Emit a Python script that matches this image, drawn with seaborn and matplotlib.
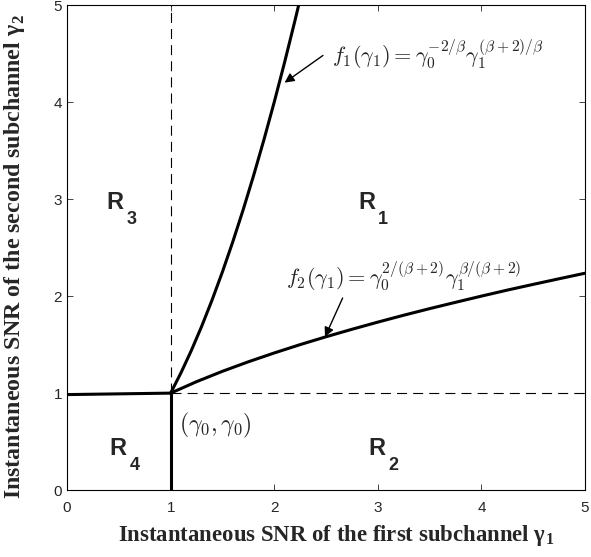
import matplotlib
matplotlib.use("Agg")
import matplotlib.pyplot as plt
import seaborn as sns
import pandas as pd

# Boundary curves
f1_x = [1.0, 1.1, 1.2, 1.3, 1.4, 1.5, 1.6, 1.7, 1.8, 1.9, 2.0, 2.1, 2.2, 2.236]
f1_y = [1.0, 1.21, 1.44, 1.69, 1.96, 2.25, 2.56, 2.89, 3.24, 3.61, 4.0, 4.41, 4.84, 5.0]
f2_x = [1.0, 1.25, 1.5, 1.75, 2.0, 2.25, 2.5, 2.75, 3.0, 3.25, 3.5, 3.75, 4.0,
        4.25, 4.5, 4.75, 5.0]
f2_y = [1.0, 1.118, 1.225, 1.323, 1.414, 1.5, 1.581, 1.658, 1.732, 1.803, 1.871,
        1.936, 2.0, 2.062, 2.121, 2.179, 2.236]
left_x = [0.0, 1.0]
left_y = [0.985, 1.0]
vert_x = [1.0, 1.0]
vert_y = [0.0, 1.0]
dash_v_x = [1.0, 1.0]
dash_v_y = [1.0, 5.0]
dash_h_x = [1.0, 5.0]
dash_h_y = [1.0, 1.0]
ticks = [0, 1, 2, 3, 4, 5]
region_names = ["R", "R", "R", "R"]
region_subs = ["3", "1", "4", "2"]
region_x = [0.46, 2.89, 0.49, 2.99]
region_y = [2.96, 2.96, 0.43, 0.43]

sns.set_style("white")
plt.rcParams["mathtext.fontset"] = "cm"
plt.rcParams["font.family"] = ["Liberation Sans", "DejaVu Sans"]

fig = plt.figure(figsize=(5.91, 5.57), dpi=100)
ax = fig.add_axes([0.1134, 0.120, 0.8766, 0.871])

def seg(x, y, **kw):
    sns.lineplot(data=pd.DataFrame({"x": x, "y": y}), x="x", y="y", ax=ax,
                 sort=False, estimator=None, legend=False, **kw)

seg(f1_x, f1_y, color="black", linewidth=2.2)
seg(f2_x, f2_y, color="black", linewidth=2.2)
seg(left_x, left_y, color="black", linewidth=2.2)
seg(vert_x, vert_y, color="black", linewidth=2.2)
seg(dash_v_x, dash_v_y, color="black", linewidth=0.8, linestyle=(0, (9, 5.5)))
seg(dash_h_x, dash_h_y, color="black", linewidth=0.8, linestyle=(0, (9, 5.5)))

ax.set_xlim(0, 5)
ax.set_ylim(0, 5)
ax.set_xticks(ticks)
ax.set_yticks(ticks)
ax.tick_params(direction="in", length=4, width=0.6, labelsize=11,
               top=True, right=True, bottom=True, left=True)
ax.tick_params(axis="x", pad=8)
for s in ax.spines.values():
    s.set_linewidth(0.8)
    s.set_color("black")

for name, sub, x, y in zip(region_names, region_subs, region_x, region_y):
    ax.text(x, y, name, fontsize=17, fontweight="bold", ha="center", va="center")
    ax.annotate(sub, xy=(x, y), xytext=(12, -12), textcoords="offset points",
                fontsize=13, fontweight="bold", ha="center", va="center")

arrow = dict(arrowstyle="-|>", color="black", lw=1.0, mutation_scale=14,
             shrinkA=0, shrinkB=0)
ax.text(2.56, 4.40, r"$f_1(\gamma_1) = \gamma_0^{-2/\beta}\gamma_1^{(\beta+2)/\beta}$",
        fontsize=16, va="baseline")
ax.annotate("", xy=(2.10, 4.20), xytext=(2.47, 4.48), arrowprops=arrow)
ax.text(2.11, 2.12, r"$f_2(\gamma_1) = \gamma_0^{2/(\beta+2)}\gamma_1^{\beta/(\beta+2)}$",
        fontsize=16, va="baseline")
ax.annotate("", xy=(2.49, 1.58), xytext=(2.66, 1.98), arrowprops=arrow)
ax.text(1.08, 0.60, r"$(\gamma_0, \gamma_0)$", fontsize=17, va="baseline")

ax.set_xlabel(r"Instantaneous SNR of the first subchannel $\mathdefault{γ}_{\mathdefault{1}}$",
              fontsize=16.4, fontweight="bold", family="Liberation Serif")
ax.set_ylabel(r"Instantaneous SNR of the second subchannel $\mathdefault{γ}_{\mathdefault{2}}$",
              fontsize=17.2, fontweight="bold", family="Liberation Serif")
ax.xaxis.set_label_coords(0.519, -0.068)
ax.yaxis.set_label_coords(-0.077, 0.482)

fig.savefig("out.png", dpi=100)
